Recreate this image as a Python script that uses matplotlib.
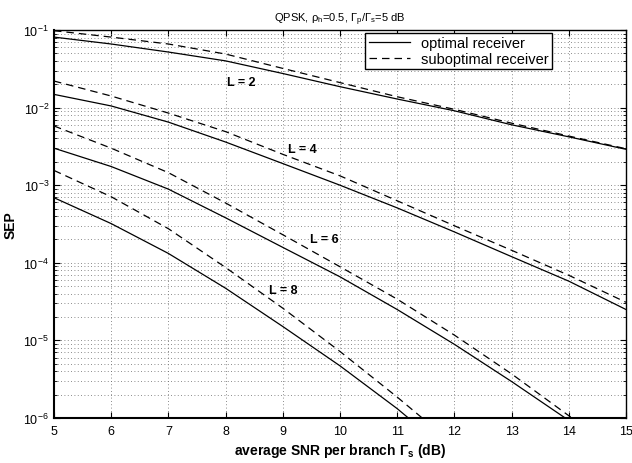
import numpy as np
import matplotlib
matplotlib.use('Agg')
from matplotlib import pyplot as plt
from matplotlib.ticker import LogLocator, NullFormatter, FixedLocator

plt.rcParams['font.family'] = ['Liberation Sans', 'DejaVu Sans']
plt.rcParams['mathtext.fontset'] = 'custom'
plt.rcParams['mathtext.rm'] = 'Liberation Sans'
plt.rcParams['mathtext.it'] = 'Liberation Sans'
plt.rcParams['mathtext.bf'] = 'Liberation Sans:bold'

nan = np.nan

# average SNR per branch (dB)
snr_db = [5, 6, 7, 8, 9, 10, 11, 12, 13, 14, 15]

# SEP, optimal receiver
sep_opt_L2 = [8.1e-2, 6.6e-2, 5.2e-2, 4.0e-2, 2.75e-2, 1.86e-2, 1.29e-2, 9.1e-3, 6.0e-3, 4.2e-3, 2.9e-3]
sep_opt_L4 = [1.48e-2, 1.05e-2, 6.5e-3, 3.6e-3, 1.9e-3, 1.0e-3, 5.1e-4, 2.5e-4, 1.2e-4, 5.8e-5, 2.5e-5]
sep_opt_L6 = [3.0e-3, 1.74e-3, 8.9e-4, 3.8e-4, 1.58e-4, 6.6e-5, 2.5e-5, 8.9e-6, 2.95e-6, 9.3e-7, 2.8e-7]
sep_opt_L8 = [6.9e-4, 3.2e-4, 1.32e-4, 4.7e-5, 1.51e-5, 4.7e-6, 1.32e-6, 3.2e-7, nan, nan, nan]

# SEP, suboptimal receiver
sep_sub_L2 = [9.8e-2, 8.1e-2, 6.6e-2, 4.9e-2, 3.2e-2, 2.1e-2, 1.38e-2, 9.5e-3, 6.3e-3, 4.3e-3, 2.95e-3]
sep_sub_L4 = [2.2e-2, 1.41e-2, 8.5e-3, 4.9e-3, 2.5e-3, 1.32e-3, 6.3e-4, 3.0e-4, 1.45e-4, 6.9e-5, 3.1e-5]
sep_sub_L6 = [5.8e-3, 3.0e-3, 1.45e-3, 5.9e-4, 2.3e-4, 8.9e-5, 3.4e-5, 1.17e-5, 3.7e-6, 1.07e-6, 3.2e-7]
sep_sub_L8 = [1.55e-3, 7.1e-4, 2.75e-4, 8.7e-5, 2.6e-5, 7.2e-6, 1.86e-6, 4.5e-7, nan, nan, nan]

# curve labels: text, x (dB), SEP
label_text = ['L = 2', 'L = 4', 'L = 6', 'L = 8']
label_x = [8.28, 9.34, 9.73, 9.0]
label_y = [2.13e-2, 2.95e-3, 2.05e-4, 4.5e-5]

fig = plt.figure(figsize=(6.32, 4.64), dpi=100)
ax = fig.add_axes([0.0854, 0.097, 0.9051, 0.8362])

opt_curves = [sep_opt_L2, sep_opt_L4, sep_opt_L6, sep_opt_L8]
sub_curves = [sep_sub_L2, sep_sub_L4, sep_sub_L6, sep_sub_L8]
for i, (opt, sub) in enumerate(zip(opt_curves, sub_curves)):
    ax.semilogy(snr_db, opt, color='k', lw=0.9, ls='-',
                label='optimal receiver' if i == 0 else None)
    ax.semilogy(snr_db, sub, color='k', lw=0.9, ls=(0, (6, 4)),
                label='suboptimal receiver' if i == 0 else None)

for t, x, y in zip(label_text, label_x, label_y):
    ax.text(x, y, t, fontsize=9, fontweight='bold', ha='center', va='center')

ax.set_xlim(5, 15)
ax.set_ylim(1e-6, 1e-1)
ax.xaxis.set_major_locator(FixedLocator(range(5, 16)))
ax.yaxis.set_major_locator(LogLocator(base=10, numticks=10))
ax.yaxis.set_minor_locator(LogLocator(base=10, subs=np.arange(2, 10), numticks=20))
ax.yaxis.set_minor_formatter(NullFormatter())

ax.grid(True, which='major', axis='both', color='0.4', ls=(0, (1, 3)), lw=0.6)
ax.grid(True, which='minor', axis='y', color='0.4', ls=(0, (1, 3)), lw=0.6)
ax.tick_params(which='both', direction='in', top=True, right=True, labelsize=9)
ax.tick_params(which='major', length=4)
ax.tick_params(which='minor', length=2)
ax.tick_params(axis='x', pad=5)
for s in ax.spines.values():
    s.set_linewidth(1.0)
ax.spines['bottom'].set_linewidth(1.5)
ax.spines['left'].set_linewidth(1.5)

ax.set_title(r'QPSK, $\rho_\mathrm{h}$=0.5, $\Gamma_\mathrm{p}/\Gamma_\mathrm{s}$=5 dB', fontsize=8, pad=6)
ax.set_xlabel(r'average SNR per branch $\mathbf{\Gamma_s}$ (dB)', fontsize=10, fontweight='bold',
              labelpad=3)
ax.set_ylabel('SEP', fontsize=10, fontweight='bold')

leg = ax.legend(loc='upper right', bbox_to_anchor=(0.8715, 0.993), borderaxespad=0,
                fontsize=10.5, fancybox=False, edgecolor='k', framealpha=1,
                handlelength=2.8, borderpad=0.25, labelspacing=0.1, handletextpad=0.8)
leg.get_frame().set_linewidth(1.0)

fig.savefig('out.png', dpi=100)
